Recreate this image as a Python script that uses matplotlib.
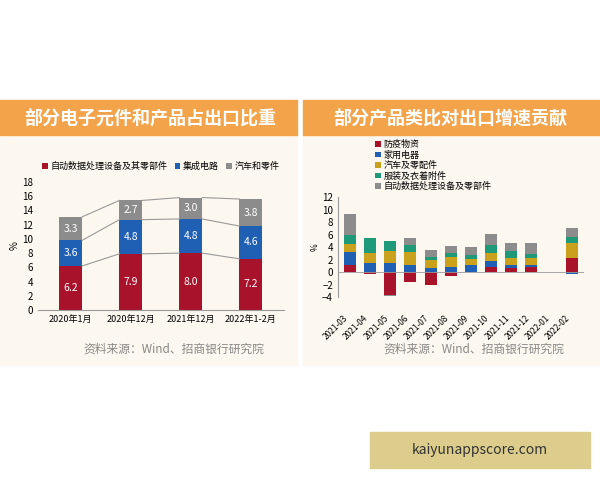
import matplotlib
matplotlib.use("Agg")
import matplotlib.pyplot as plt
import numpy as np
from matplotlib.patches import Rectangle

plt.rcParams['font.family'] = ['Noto Sans CJK SC', 'DejaVu Sans']

# left panel data
left_cats = ["2020年1月", "2020年12月", "2021年12月", "2022年1-2月"]
left_names = ["自动数据处理设备及其零部件", "集成电路", "汽车和零件"]
left_red = [6.2, 7.9, 8.0, 7.2]
left_blue = [3.6, 4.8, 4.8, 4.6]
left_gray = [3.3, 2.7, 3.0, 3.8]

# right panel data
right_cats = ["2021-03", "2021-04", "2021-05", "2021-06", "2021-07", "2021-08",
              "2021-09", "2021-10", "2021-11", "2021-12", "2022-01", "2022-02"]
right_names = ["防疫物资", "家用电器", "汽车及零配件", "服装及衣着附件", "自动数据处理设备及零部件"]
fangyi = [1.2, -0.3, -3.6, -1.5, -2.0, -0.6, 0.1, 0.8, 0.7, 0.8, 0, 2.3]
jiadian = [2.0, 1.5, 1.4, 1.2, 0.6, 0.9, 1.1, 1.0, 0.5, 0.4, 0, -0.3]
qiche = [1.3, 1.6, 2.0, 2.0, 1.4, 1.6, 0.9, 1.2, 1.0, 1.0, 0, 2.4]
fuzhuang = [1.4, 2.3, 1.6, 1.2, 0.5, 0.6, 0.6, 1.3, 1.2, 0.7, 0, 0.9]
zidong = [3.5, 0.0, -0.3, 1.1, 1.0, 1.1, 1.3, 1.8, 1.3, 1.7, 0, 1.5]

RED, BLUE, GRAY = "#a8122a", "#1f5fb4", "#8c8c8c"
YEL, GRN = "#c9a11c", "#1f9a78"

fig = plt.figure(figsize=(6, 4.8), dpi=100)
fig.patch.set_facecolor("white")


def add_rect(x0, y0, w, h, color, z=-10):
    fig.patches.append(Rectangle((x0, y0), w, h, transform=fig.transFigure,
                                 color=color, zorder=z))


# panel backgrounds and banners
for x0, w in [(0.0, 0.495), (0.505, 0.495)]:
    add_rect(x0, 0.24, w, 0.48, "#fdf8ef")
    add_rect(x0, 0.719, w, 0.073, "#f3a34a")
fig.text(0.25, 0.755, "部分电子元件和产品占出口比重", ha="center", va="center",
         color="white", fontsize=13, fontweight="bold")
fig.text(0.75, 0.755, "部分产品类比对出口增速贡献", ha="center", va="center",
         color="white", fontsize=13, fontweight="bold")

# left chart
ax = fig.add_axes([0.063, 0.354, 0.41, 0.267])
ax.set_facecolor("none")
x = np.arange(len(left_cats))
red = np.array(left_red); blue = np.array(left_blue); gray = np.array(left_gray)
w = 0.38
ax.bar(x, red, w, color=RED, label=left_names[0])
ax.bar(x, blue, w, bottom=red, color=BLUE, label=left_names[1])
ax.bar(x, gray, w, bottom=red + blue, color=GRAY, label=left_names[2])
for lvl in [red, red + blue, red + blue + gray]:
    for i in range(len(x) - 1):
        ax.plot([x[i] + w / 2, x[i + 1] - w / 2], [lvl[i], lvl[i + 1]], color="#999999", lw=0.8)
for i in range(len(x)):
    ax.text(x[i], red[i] / 2, f"{red[i]:.1f}", ha="center", va="center", color="white", fontsize=7.5)
    ax.text(x[i], red[i] + blue[i] / 2, f"{blue[i]:.1f}", ha="center", va="center", color="white", fontsize=7.5)
    ax.text(x[i], red[i] + blue[i] + gray[i] / 2, f"{gray[i]:.1f}", ha="center", va="center", color="white", fontsize=7.5)
ax.set_ylim(0, 18)
ax.set_yticks(range(0, 19, 2))
ax.set_xlim(-0.55, 3.55)
ax.set_xticks(x)
ax.set_xticklabels(left_cats, fontsize=6.5)
ax.tick_params(axis="y", labelsize=7, length=0)
ax.tick_params(axis="x", length=0)
ax.set_ylabel("%", fontsize=7, labelpad=2)
for s in ["top", "right", "left"]:
    ax.spines[s].set_visible(False)
ax.spines["bottom"].set_color("#999999")
ax.legend(loc="lower center", bbox_to_anchor=(0.5, 1.02), ncol=3, fontsize=6.5, frameon=False,
          handlelength=0.6, handleheight=0.6, columnspacing=0.8, handletextpad=0.3)
fig.text(0.29, 0.265, "资料来源：Wind、招商银行研究院", ha="center", color="#888888", fontsize=8.5)

# right chart
ax2 = fig.add_axes([0.563, 0.381, 0.41, 0.208])
ax2.set_facecolor("none")
xr = np.arange(len(right_cats))
pos = np.zeros(len(xr)); neg = np.zeros(len(xr))
for vals, c, n in [(fangyi, RED, right_names[0]), (jiadian, BLUE, right_names[1]),
                   (qiche, YEL, right_names[2]), (fuzhuang, GRN, right_names[3]),
                   (zidong, GRAY, right_names[4])]:
    v = np.array(vals, dtype=float)
    bottom = np.where(v >= 0, pos, neg)
    ax2.bar(xr, v, 0.6, bottom=bottom, color=c, label=n)
    pos += np.where(v >= 0, v, 0)
    neg += np.where(v < 0, v, 0)
ax2.axhline(0, color="#999999", lw=0.6)
ax2.set_ylim(-4, 12)
ax2.set_yticks(range(-4, 13, 2))
ax2.set_xlim(-0.6, 11.6)
ax2.set_xticks(xr)
ax2.set_xticklabels(right_cats, rotation=45, ha="right", fontsize=6)
ax2.tick_params(axis="y", labelsize=7, length=0)
ax2.tick_params(axis="x", length=0, pad=12)
ax2.set_ylabel("%", fontsize=6, labelpad=2)
for s in ["top", "right", "bottom"]:
    ax2.spines[s].set_visible(False)
ax2.spines["left"].set_color("#999999")
ax2.legend(loc="lower left", bbox_to_anchor=(0.12, 0.98), ncol=1, fontsize=6.5, frameon=False,
           handlelength=0.6, handleheight=0.6, handletextpad=0.3, labelspacing=0.15)
fig.text(0.79, 0.265, "资料来源：Wind、招商银行研究院", ha="center", color="#888888", fontsize=8.5)

# watermark box
add_rect(0.617, 0.025, 0.366, 0.075, "#dccd8c")
fig.text(0.80, 0.062, "kaiyunappscore.com", ha="center", va="center", fontsize=10, color="#333333")

fig.savefig("out.png", dpi=100)
